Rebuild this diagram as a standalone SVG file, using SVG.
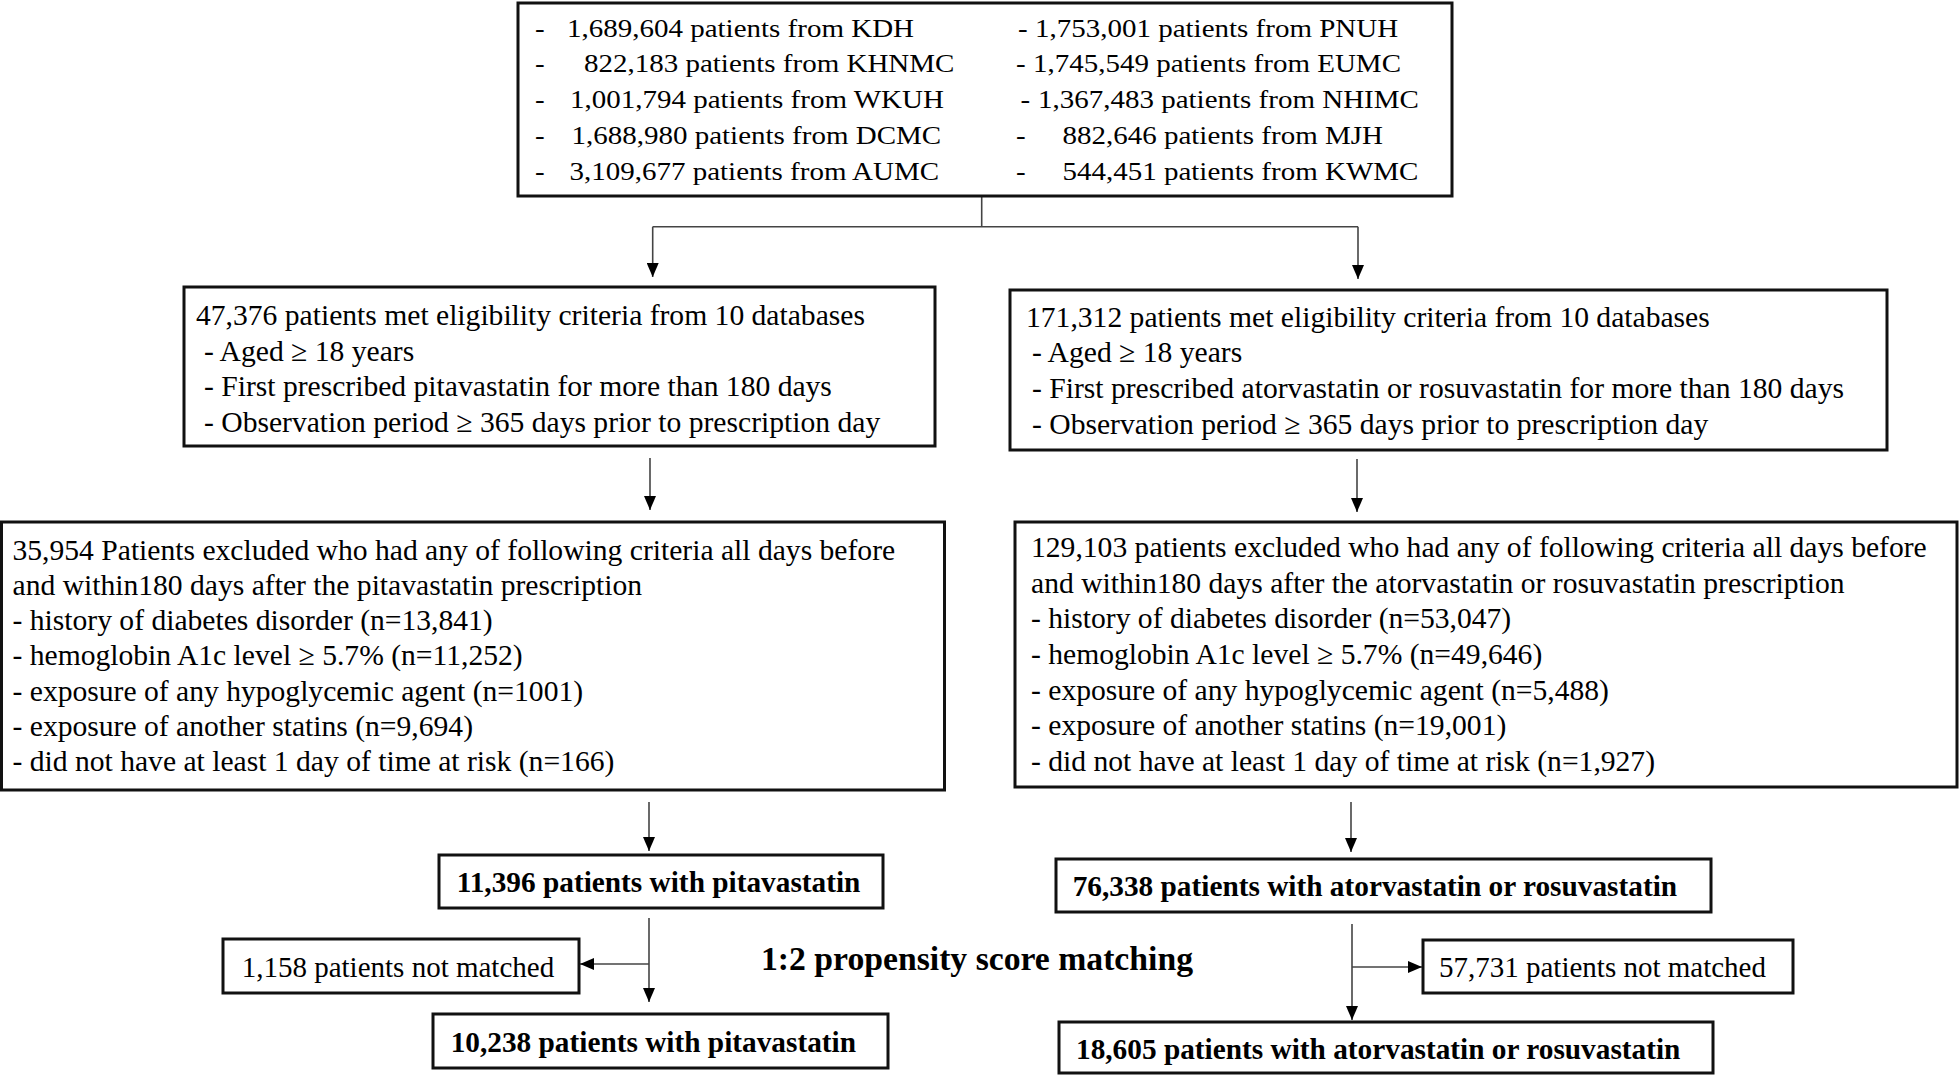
<svg xmlns="http://www.w3.org/2000/svg" width="1959" height="1076" viewBox="0 0 1959 1076">
<defs>
<marker id="arr" markerUnits="userSpaceOnUse" markerWidth="14" markerHeight="12" viewBox="0 0 14 12" refX="14" refY="6" orient="auto">
<path d="M0,0 L14,6 L0,12 z" fill="#000"/>
</marker>
<style>
.box{fill:#fff;stroke:#111;stroke-width:3}
.t{font-family:"Liberation Serif","Times New Roman",serif;font-size:29px;fill:#000}
.m{font-family:"Liberation Serif","Times New Roman",serif;font-size:29.6px;fill:#000}
.b{font-family:"Liberation Serif","Times New Roman",serif;font-size:29.3px;font-weight:bold;fill:#000}
.big{font-family:"Liberation Serif","Times New Roman",serif;font-size:33.7px;font-weight:bold;fill:#000}
.c{stroke:#444;stroke-width:1.6;fill:none}
.ca{stroke:#444;stroke-width:1.6;fill:none;marker-end:url(#arr)}
</style>
</defs>
<rect width="1959" height="1076" fill="#fff"/>

<g id="connectors">
<line class="c" x1="981.7" y1="196" x2="981.7" y2="226.7"/>
<line class="c" x1="652.7" y1="226.7" x2="1358" y2="226.7"/>
<line class="ca" x1="652.7" y1="226.7" x2="652.7" y2="277"/>
<line class="ca" x1="1358" y1="226.7" x2="1358" y2="279"/>
<line class="ca" x1="650" y1="458" x2="650" y2="510"/>
<line class="ca" x1="1357" y1="459" x2="1357" y2="512"/>
<line class="ca" x1="649" y1="802" x2="649" y2="851"/>
<line class="ca" x1="1351" y1="802" x2="1351" y2="852"/>
<line class="ca" x1="649" y1="918" x2="649" y2="1002"/>
<line class="ca" x1="649" y1="964" x2="580" y2="964"/>
<line class="ca" x1="1352" y1="924" x2="1352" y2="1020"/>
<line class="ca" x1="1352" y1="967" x2="1422" y2="967"/>
</g>

<g id="sources">
<rect class="box" x="518" y="3" width="934" height="193"/>
<text class="t" transform="translate(0,36.7) scale(1,0.9)"><tspan x="535" y="0">-</tspan><tspan x="567" y="0">1,689,604 patients from KDH</tspan></text>
<text class="t" transform="translate(0,72.3) scale(1,0.9)"><tspan x="535" y="0">-</tspan><tspan x="584" y="0">822,183 patients from KHNMC</tspan></text>
<text class="t" transform="translate(0,108.3) scale(1,0.9)"><tspan x="535" y="0">-</tspan><tspan x="570" y="0">1,001,794 patients from WKUH</tspan></text>
<text class="t" transform="translate(0,144) scale(1,0.9)"><tspan x="535" y="0">-</tspan><tspan x="571.5" y="0">1,688,980 patients from DCMC</tspan></text>
<text class="t" transform="translate(0,180) scale(1,0.9)"><tspan x="535" y="0">-</tspan><tspan x="569.5" y="0">3,109,677 patients from AUMC</tspan></text>
<text class="t" transform="translate(0,36.7) scale(1,0.9)"><tspan x="1018" y="0">-</tspan><tspan x="1035" y="0">1,753,001 patients from PNUH</tspan></text>
<text class="t" transform="translate(0,72.3) scale(1,0.9)"><tspan x="1016" y="0">-</tspan><tspan x="1033" y="0">1,745,549 patients from EUMC</tspan></text>
<text class="t" transform="translate(0,108.3) scale(1,0.9)"><tspan x="1020.5" y="0">-</tspan><tspan x="1038" y="0">1,367,483 patients from NHIMC</tspan></text>
<text class="t" transform="translate(0,144) scale(1,0.9)"><tspan x="1016" y="0">-</tspan><tspan x="1062.5" y="0">882,646 patients from MJH</tspan></text>
<text class="t" transform="translate(0,180) scale(1,0.9)"><tspan x="1016" y="0">-</tspan><tspan x="1062.5" y="0">544,451 patients from KWMC</tspan></text>
</g>

<g id="eligible-pitavastatin">
<rect class="box" x="184" y="287" width="751" height="159"/>
<text class="m" x="196" y="325">47,376 patients met eligibility criteria from 10 databases</text>
<text class="m" x="204" y="361">- Aged ≥ 18 years</text>
<text class="m" x="204" y="396">- First prescribed pitavastatin for more than 180 days</text>
<text class="m" x="204" y="432">- Observation period ≥ 365 days prior to prescription day</text>
</g>

<g id="eligible-ator-rosu">
<rect class="box" x="1010" y="290" width="877" height="160"/>
<text class="m" x="1026" y="327">171,312 patients met eligibility criteria from 10 databases</text>
<text class="m" x="1032" y="362">- Aged ≥ 18 years</text>
<text class="m" x="1032" y="398">- First prescribed atorvastatin or rosuvastatin for more than 180 days</text>
<text class="m" x="1032" y="434">- Observation period ≥ 365 days prior to prescription day</text>
</g>

<g id="excluded-pitavastatin">
<rect class="box" x="1.5" y="522" width="943" height="268"/>
<text class="m" x="12.5" y="560">35,954 Patients excluded who had any of following criteria all days before</text>
<text class="m" x="12.5" y="595">and within180 days after the pitavastatin prescription</text>
<text class="m" x="12.5" y="630">- history of diabetes disorder (n=13,841)</text>
<text class="m" x="12.5" y="665">- hemoglobin A1c level ≥ 5.7% (n=11,252)</text>
<text class="m" x="12.5" y="701">- exposure of any hypoglycemic agent (n=1001)</text>
<text class="m" x="12.5" y="736">- exposure of another statins (n=9,694)</text>
<text class="m" x="12.5" y="771">- did not have at least 1 day of time at risk (n=166)</text>
</g>

<g id="excluded-ator-rosu">
<rect class="box" x="1015" y="522" width="942" height="265"/>
<text class="m" x="1031" y="557">129,103 patients excluded who had any of following criteria all days before</text>
<text class="m" x="1031" y="593">and within180 days after the atorvastatin or rosuvastatin prescription</text>
<text class="m" x="1031" y="628">- history of diabetes disorder (n=53,047)</text>
<text class="m" x="1031" y="664">- hemoglobin A1c level ≥ 5.7% (n=49,646)</text>
<text class="m" x="1031" y="700">- exposure of any hypoglycemic agent (n=5,488)</text>
<text class="m" x="1031" y="735">- exposure of another statins (n=19,001)</text>
<text class="m" x="1031" y="771">- did not have at least 1 day of time at risk (n=1,927)</text>
</g>

<g id="pitavastatin-cohort">
<rect class="box" x="439" y="855" width="444" height="53"/>
<text class="b" x="456.7" y="892">11,396 patients with pitavastatin</text>
</g>

<g id="ator-rosu-cohort">
<rect class="box" x="1056" y="859" width="655" height="53"/>
<text class="b" x="1072.7" y="896">76,338 patients with atorvastatin or rosuvastatin</text>
</g>

<g id="matching-label">
<text class="big" x="761" y="970">1:2 propensity score matching</text>
</g>

<g id="pitavastatin-unmatched">
<rect class="box" x="223" y="939" width="356" height="54"/>
<text class="t" x="241.7" y="977">1,158 patients not matched</text>
</g>

<g id="ator-rosu-unmatched">
<rect class="box" x="1423" y="940" width="370" height="53"/>
<text class="t" x="1439" y="977">57,731 patients not matched</text>
</g>

<g id="pitavastatin-matched">
<rect class="box" x="433" y="1014" width="455" height="54"/>
<text class="b" x="450.7" y="1051.5">10,238 patients with pitavastatin</text>
</g>

<g id="ator-rosu-matched">
<rect class="box" x="1059" y="1022" width="654" height="51"/>
<text class="b" x="1076" y="1059">18,605 patients with atorvastatin or rosuvastatin</text>
</g>
</svg>
